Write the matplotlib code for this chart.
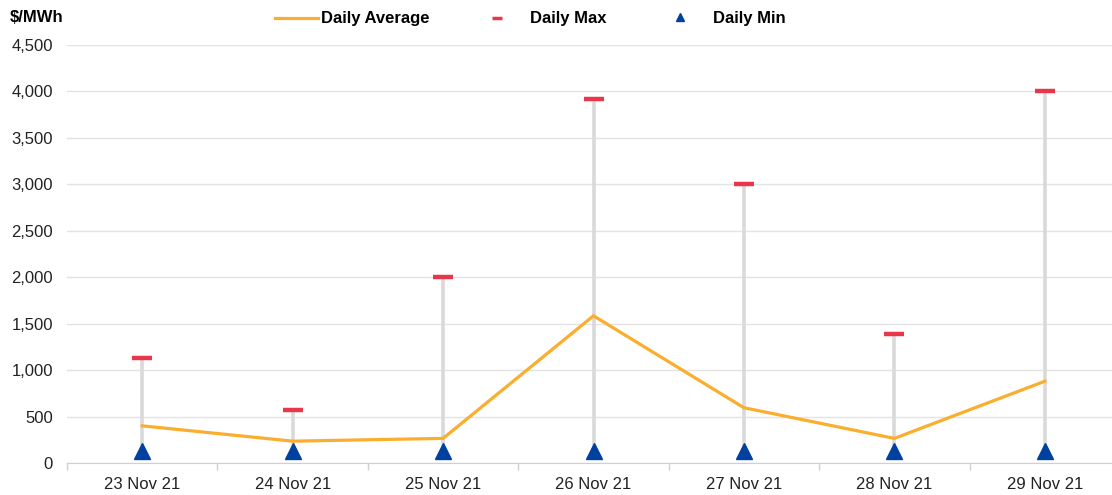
import numpy as np
import matplotlib.pyplot as plt
from matplotlib.ticker import FuncFormatter, FixedLocator

plt.rcParams['font.family'] = ['Liberation Sans', 'DejaVu Sans']

## Data ($/MWh)
days = ['23 Nov 21', '24 Nov 21', '25 Nov 21', '26 Nov 21',
        '27 Nov 21', '28 Nov 21', '29 Nov 21']
daily_avg = [400, 235, 265, 1585, 595, 265, 880]
daily_max = [1130, 570, 2000, 3920, 3000, 1390, 4000]
daily_min = [130, 125, 125, 125, 125, 125, 125]

# colours
c_avg = '#FBAE2D'
c_max = '#E8374A'
c_min = '#0041A0'
c_rng = '#D9D9D9'
c_grid = '#E3E3E3'

W, H = 1112, 495
fig = plt.figure(figsize=(W/100, H/100), dpi=100)
ax = fig.add_axes([67/W, (H-463)/H, 1053/W, 418/H])

x = np.arange(len(days))

# grey range bars min -> max
ax.vlines(x, daily_min, daily_max, color=c_rng, lw=2.6, zorder=2)
ax.plot(x, daily_avg, color=c_avg, lw=2.3, zorder=3, solid_joinstyle='miter')
ax.plot(x, daily_max, ls='none', marker='_', ms=14, mew=3.2, color=c_max, zorder=4)
ax.plot(x, daily_min, ls='none', marker='^', ms=11, color=c_min, zorder=5)

ax.set_xlim(-0.5, len(days) - 0.5)
ax.set_ylim(0, 4500)
ax.set_yticks(np.arange(0, 4501, 500))
ax.yaxis.set_major_formatter(FuncFormatter(lambda v, p: '{:,.0f}'.format(v)))
ax.grid(axis='y', color=c_grid, lw=1)
ax.set_axisbelow(True)

ax.set_xticks(x)
ax.set_xticklabels(days)
ax.xaxis.set_minor_locator(FixedLocator(np.arange(-0.5, len(days), 1.0)))
ax.tick_params(axis='x', which='major', length=0, labelsize=12, pad=10, colors='#222222')
ax.tick_params(axis='x', which='minor', length=5, color='#D0D0D0', width=1)
ax.tick_params(axis='y', length=0, labelsize=12, pad=10, colors='#222222')

for s in ['top', 'right', 'left']:
    ax.spines[s].set_visible(False)
ax.spines['bottom'].set_color('#D0D0D0')

## Header: unit label and legend, placed in pixel space
ov = fig.add_axes([0, 0, 1, 1], zorder=10)
ov.set_xlim(0, W)
ov.set_ylim(H, 0)
ov.axis('off')
ov.text(10, 18, '$/MWh', fontsize=12, fontweight='bold', va='center', ha='left')
ov.plot([275, 318], [18, 18], color=c_avg, lw=2.3)
ov.text(321, 18, 'Daily Average', fontsize=12, fontweight='bold', va='center')
ov.plot([497], [18], marker='_', ms=7, mew=2.5, color=c_max)
ov.text(530, 18, 'Daily Max', fontsize=12, fontweight='bold', va='center')
ov.plot([680], [17], marker='^', ms=6, color=c_min)
ov.text(713, 18, 'Daily Min', fontsize=12, fontweight='bold', va='center')

fig.savefig('out.png', dpi=100)
